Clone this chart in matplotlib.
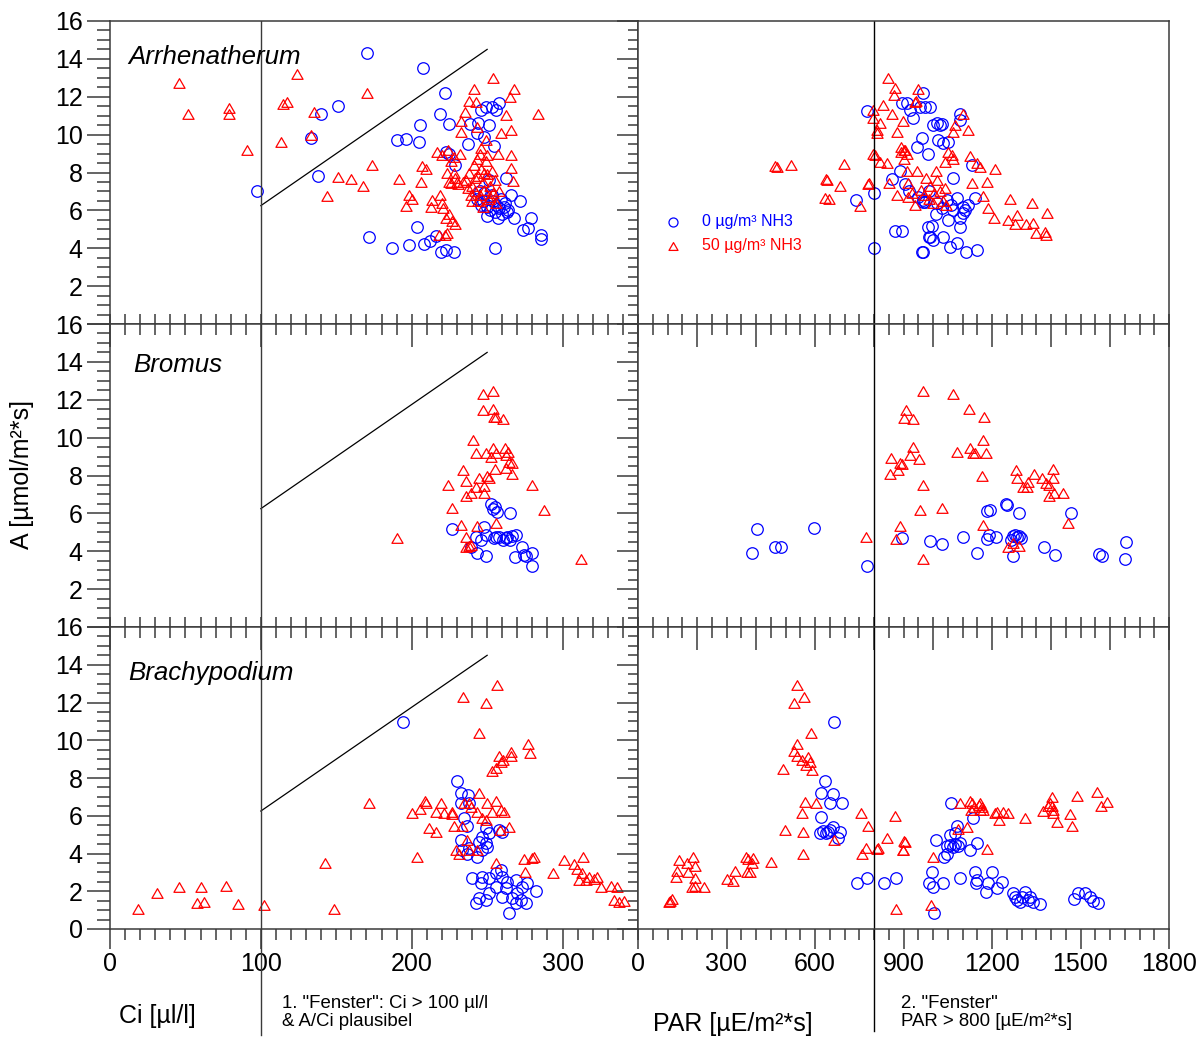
import matplotlib
matplotlib.use("Agg")
import matplotlib.pyplot as plt
from matplotlib.path import Path
from matplotlib.ticker import MultipleLocator

plt.rcParams['font.family'] = ['Liberation Sans', 'DejaVu Sans']

# ─────────────────────────────────────────────
#  Data
# ─────────────────────────────────────────────
# Arrhenatherum – A vs Ci
arr_ci_0 = [97.5, 133, 140, 151, 170.5, 137.7, 172, 187, 190.5, 207.5, 222, 219, 225, 205.5, 196, 205,
            198, 203.5, 208, 212, 216, 219.5, 223, 228, 255, 237, 229, 238.5, 246, 249, 253, 258, 256,
            244, 251, 243, 248, 254.5, 262.5, 251, 274, 277, 286, 286, 268, 279, 272, 266, 223, 225,
            243, 246, 248, 250, 252, 254, 256, 258, 260, 262, 264, 255, 250, 259, 247, 261, 245, 253, 257, 263]
arr_a_0 = [7.0, 9.8, 11.1, 11.5, 14.3, 7.8, 4.6, 4.0, 9.7, 13.5, 12.2, 11.1, 10.55, 10.5, 9.75, 9.6,
           4.17, 5.1, 4.2, 4.4, 4.65, 3.8, 3.9, 3.8, 4.0, 9.5, 8.4, 10.55, 11.3, 11.45, 11.45, 11.65, 11.3,
           10.6, 10.5, 10.1, 9.9, 9.4, 7.7, 7.6, 4.95, 5.05, 4.7, 4.5, 5.6, 5.6, 6.5, 6.8, 9.1, 9.0,
           6.6, 6.3, 6.9, 6.2, 6.0, 6.5, 6.3, 6.1, 5.8, 6.4, 6.0, 5.9, 5.7, 6.6, 6.5, 6.2, 7.0, 6.8, 5.6, 5.9]
arr_ci_50 = [46, 51.5, 79, 79, 91, 113.5, 115, 117, 124, 135.5, 133.5, 144, 151, 160, 168, 170.5, 174,
             191.5, 206, 207, 209.5, 198, 200, 196, 213.5, 213, 219, 220, 221, 223, 225, 227, 229, 223.5,
             222, 218, 254, 241, 268, 265, 283.5, 238, 242.5, 235, 233, 233, 262.5, 266, 259, 257, 266,
             266, 267, 217, 220, 224, 228, 232, 226, 223.5, 228, 230, 226, 225,
             236, 238, 240, 241, 242, 243, 244, 245, 246, 247, 248, 249, 250, 251, 252, 253, 254, 255,
             256, 244, 239, 247, 250, 237, 242, 248, 252, 240, 258, 245, 234, 231, 229, 246, 249, 243]
arr_a_50 = [12.7, 11.1, 11.4, 11.1, 9.2, 9.6, 11.6, 11.7, 13.2, 11.2, 10.0, 6.75, 7.75, 7.65, 7.3, 12.2, 8.4,
            7.65, 7.5, 8.35, 8.2, 6.8, 6.6, 6.25, 6.55, 6.2, 6.8, 6.4, 6.1, 5.6, 5.8, 5.45, 5.3, 4.8,
            4.7, 4.7, 13.0, 12.4, 12.4, 12.0, 11.1, 11.8, 11.7, 11.2, 10.7, 10.15, 11.05, 10.25, 10.1, 9.0, 8.9,
            8.25, 7.55, 9.1, 8.9, 9.2, 8.8, 9.0, 8.6, 8.0, 8.0, 7.5, 7.45, 7.5,
            7.6, 8.0, 7.3, 8.4, 7.0, 8.7, 7.8, 6.8, 8.2, 7.5, 7.1, 8.6, 7.9, 6.6, 7.3, 8.1, 6.9, 7.6,
            6.4, 6.5, 6.8, 6.2, 8.9, 7.2, 7.7, 8.0, 6.7, 6.5, 7.0, 9.0, 7.5, 7.4, 7.7, 9.3, 9.7, 10.4]

# Arrhenatherum – A vs PAR
arr_par_0 = [776, 800, 800, 739, 895, 888, 861, 871, 895, 966, 932, 922, 966, 973, 956, 990, 912, 1000,
             1014, 1024, 1030, 1091, 1091, 963, 946, 983, 1017, 1034, 1051, 1068, 1132, 966, 1014, 1047,
             1081, 1108, 1142, 1102, 1091, 1068, 1091, 997, 990, 1000, 1034, 1058, 1081, 963, 1112, 1149,
             906, 920, 1030, 1060, 1120, 1100, 1050, 1010, 950, 985, 966, 973, 983, 986]
arr_pa_0 = [11.25, 6.9, 4.0, 6.55, 11.65, 8.1, 7.65, 4.9, 4.9, 3.8, 10.9, 11.3, 12.2, 11.45, 11.45, 11.45,
            11.65, 10.5, 10.6, 10.5, 10.55, 11.1, 10.75, 9.8, 9.35, 9.0, 9.7, 9.55, 9.6, 7.7, 8.4, 6.45, 6.4,
            6.55, 6.65, 6.0, 6.65, 5.85, 5.6, 6.0, 5.1, 5.2, 4.6, 4.45, 4.6, 4.05, 4.3, 3.8, 3.8, 3.9,
            7.4, 7.0, 6.1, 6.3, 6.3, 6.2, 5.5, 5.8, 6.7, 7.0, 6.55, 6.45, 5.1, 4.6]
arr_par_50 = [464, 471, 519, 698, 637, 641, 685, 634, 647, 753, 780, 783, 797, 803, 797, 797, 810, 810, 820,
              847, 871, 868, 831, 861, 898, 878, 891, 893, 903, 950, 942, 939, 820, 844, 1102, 1119, 1075,
              1068, 1051, 1064, 1068, 1041, 1125, 1149, 1159, 1210, 1183, 1132, 905, 913, 900, 1170, 1186,
              1207, 1261, 1285, 1254, 1278, 1315, 1339, 1336, 1386, 1349, 1380, 1383,
              851, 915, 878, 915, 929, 939, 946, 912, 960, 975, 990, 1005, 1015, 1025, 1035, 1000, 970,
              1045, 1040, 985, 1010]
arr_pa_50 = [8.35, 8.3, 8.4, 8.45, 7.65, 7.6, 7.3, 6.65, 6.6, 6.25, 7.4, 7.45, 9.0, 8.9, 11.3, 10.9, 10.25,
             10.1, 10.6, 13.0, 12.45, 12.1, 11.55, 11.1, 10.7, 10.15, 9.35, 9.1, 9.2, 12.4, 11.8, 11.7, 8.55,
             8.5, 11.1, 10.25, 10.5, 10.15, 9.1, 8.9, 8.7, 8.55, 8.85, 8.5, 8.3, 8.2, 7.5, 7.45, 9.2, 9.0,
             8.7, 6.75, 6.1, 5.6, 6.6, 5.75, 5.5, 5.3, 5.3, 5.35, 6.4, 5.85, 4.8, 4.85, 4.7,
             7.45, 7.45, 6.8, 6.7, 6.9, 6.3, 8.1, 8.1, 7.1, 7.7, 7.3, 6.9, 7.6, 7.0, 6.5, 6.4, 6.8,
             6.3, 7.2, 6.6, 8.1]

# Bromus – A vs Ci
bro_ci_0 = [227, 252.5, 254, 256.5, 265, 255, 247.8, 249.2, 242.6, 243.2, 249.2, 239.3, 254.5, 257.8, 262.4,
            265, 266.4, 269, 263, 273, 268.3, 274.3, 279.6, 279.6, 275.6, 260.4, 255.8, 245.9]
bro_a_0 = [5.2, 6.5, 6.25, 6.05, 6.0, 6.35, 5.3, 4.85, 4.75, 3.9, 3.75, 4.2, 4.7, 4.75, 4.7,
           4.6, 4.8, 4.85, 4.75, 4.2, 3.7, 3.8, 3.9, 3.2, 3.75, 4.6, 4.75, 4.6]
bro_ci_50 = [190, 247, 254, 247, 254, 254.5, 256, 260.5, 240.6, 242.6, 249, 254, 256, 252.5, 261.7, 262.4,
             263.7, 264.4, 266.4, 262.4, 266.4, 255, 234, 236, 244.5, 250, 251, 248, 242.6, 239, 236, 248,
             224, 280, 288, 227, 256, 243, 232.5, 236, 236, 238, 239, 312]
bro_a_50 = [4.7, 12.3, 12.45, 11.45, 11.5, 11.1, 11.1, 11.0, 9.9, 9.2, 9.2, 9.45, 9.2, 9.0, 9.45, 9.1,
            9.25, 8.7, 8.65, 8.4, 8.1, 8.35, 8.3, 7.7, 7.85, 7.95, 7.85, 7.45, 7.4, 7.1, 6.9, 7.1,
            7.5, 7.5, 6.2, 6.3, 5.5, 5.35, 5.4, 4.75, 4.2, 4.3, 4.35, 3.6]

# Bromus – A vs PAR
bro_par_0 = [403, 386, 464, 485, 597, 776, 895, 990, 1031, 1102, 1149, 1183, 1193, 1247, 1251, 1292, 1183,
             1190, 1213, 1264, 1271, 1278, 1285, 1292, 1298, 1271, 1376, 1414, 1468, 1563, 1573, 1654, 1651]
bro_pa_0 = [5.2, 3.9, 4.2, 4.2, 5.25, 3.2, 4.7, 4.55, 4.4, 4.75, 3.9, 6.1, 6.2, 6.5, 6.45, 6.0, 4.65,
            4.85, 4.75, 4.6, 4.8, 4.85, 4.75, 4.8, 4.7, 3.75, 4.2, 3.8, 6.0, 3.85, 3.75, 4.5, 3.6]
bro_par_50 = [773, 966, 908, 902, 932, 932, 922, 953, 858, 888, 895, 881, 854, 966, 956, 888, 875, 966,
              1068, 1122, 1173, 1169, 1081, 1125, 1136, 1142, 1180, 1166, 1031, 1169, 1281, 1285, 1305,
              1322, 1319, 1342, 1369, 1383, 1393, 1407, 1407, 1393, 1410, 1441, 1458, 1271, 1254, 1292]
bro_pa_50 = [4.75, 12.45, 11.45, 11.05, 11.0, 9.5, 9.1, 8.85, 8.95, 8.65, 8.6, 8.3, 8.1, 7.5, 6.2, 5.35,
             4.65, 3.6, 12.3, 11.5, 11.1, 9.9, 9.25, 9.45, 9.2, 9.2, 9.2, 8.0, 6.3, 5.4, 8.3, 7.85, 7.4,
             7.65, 7.4, 8.1, 7.85, 7.6, 7.5, 8.35, 7.85, 6.9, 7.05, 7.05, 5.5, 4.45, 4.2, 4.3]

# Brachypodium – A vs Ci
bra_ci_0 = [194, 230, 232.7, 237.3, 232.7, 238, 234.6, 236.6, 257.8, 259.7, 249.2, 251.2, 246.5, 244.5,
            249.2, 232.7, 233.3, 236.6, 243.2, 238, 249.8, 246.5,
            240, 246.5, 245.9, 251.2, 255.8, 259.1, 259.7, 263, 269, 276.3, 282.2, 272.9, 269.7, 266.4,
            272.3, 264.4, 242.6, 244.5, 249.2, 251.2, 259.7, 255.8, 275.6, 269, 262.4]
bra_a_0 = [10.95, 7.85, 7.2, 7.1, 6.7, 6.65, 5.9, 5.45, 5.25, 5.15, 5.35, 5.1, 4.9, 4.6,
           4.55, 4.7, 4.2, 4.0, 3.8, 4.3, 4.35, 4.2,
           2.7, 2.75, 2.45, 2.7, 2.95, 3.1, 2.75, 2.5, 2.6, 2.45, 2.0, 2.2, 1.9, 1.65,
           1.55, 0.85, 1.4, 1.65, 1.55, 1.9, 1.7, 2.2, 1.4, 1.4, 2.15]
bra_ci_50 = [18.5, 31, 45.8, 57.5, 62, 60.6, 77, 85, 102, 142.5, 148.7, 171.8,
             256.5, 234, 249, 244.5, 277, 278.3, 257.8, 265.7, 265.7, 260.4, 255.8, 253.1, 259.1,
             200, 205.5, 208.9, 209.5, 219.4, 216.1, 221.4, 226.7, 226.7, 211.5, 216.1, 203.6,
             228, 233.3, 234.6, 238, 239.3, 244.5, 249.8, 255.8, 259.1, 261.1, 264.4, 243.2, 246.5, 249.2,
             253.1, 229.4, 231.3, 236.6, 238, 243.2, 255.8, 258.4,
             274.3, 279.6, 280.9, 274.9, 293.5, 300.7, 307.3, 313.3, 309.3, 312.6, 310.6, 315.3, 317.2,
             322.5, 320.6, 325.8, 331.8, 335.8, 333.8, 337.1, 340.4]
bra_a_50 = [1.05, 1.9, 2.2, 1.4, 1.45, 2.2, 2.3, 1.35, 1.25, 3.5, 1.05, 6.7,
            12.95, 12.3, 11.95, 10.4, 9.8, 9.35, 9.15, 9.4, 9.15, 8.95, 8.55, 8.35, 8.85,
            6.15, 6.35, 6.8, 6.7, 6.7, 6.2, 6.15, 6.2, 6.1, 5.35, 5.15, 3.8,
            5.45, 5.45, 6.7, 6.65, 6.45, 7.2, 6.7, 6.8, 6.3, 6.2, 5.4, 6.2, 5.9, 5.75,
            6.2, 4.2, 4.0, 4.7, 4.2, 4.2, 3.5, 5.25,
            3.7, 3.75, 3.8, 3.0, 2.95, 3.65, 3.45, 3.8, 3.2, 2.95, 2.6, 2.6, 2.75,
            2.75, 2.65, 2.2, 2.3, 2.2, 1.55, 1.45, 1.5]

# Brachypodium – A vs PAR
bra_par_0 = [664, 634, 620, 661, 651, 692, 620, 661, 685, 678, 627, 644, 617, 637, 651, 742, 776, 834, 875,
             1061, 1136, 1081, 1075, 1058, 1010, 1047, 1058, 1075, 1091, 1085, 1125, 1149, 1037, 1047, 1068,
             997, 986, 1000, 1034, 1091, 1142, 1149, 1146, 1180, 1186, 1200, 1217, 1234, 1003,
             1271, 1312, 1285, 1295, 1322, 1339, 1363, 1278, 1302, 1329,
             1478, 1492, 1515, 1532, 1542, 1559]
bra_pa_0 = [10.95, 7.85, 7.2, 7.15, 6.65, 6.7, 5.95, 5.4, 5.15, 4.8, 5.2, 5.15, 5.1, 5.1, 5.25, 2.45, 2.7,
            2.45, 2.7, 6.65, 5.9, 5.45, 5.1, 5.0, 4.7, 4.4, 4.45, 4.5, 4.55, 4.4, 4.2, 4.55, 3.8, 4.0, 4.35,
            3.0, 2.45, 2.2, 2.45, 2.7, 3.0, 2.6, 2.45, 1.95, 2.45, 3.0, 2.15, 2.5, 0.85,
            1.9, 1.95, 1.55, 1.45, 1.55, 1.45, 1.3, 1.7, 1.7, 1.7,
            1.6, 1.9, 1.9, 1.7, 1.5, 1.4]
bra_par_50 = [108, 115, 105, 139, 132, 129, 166, 186, 193, 169, 193, 183, 193, 224, 302, 322, 329, 366, 373,
              386, 380, 369, 390, 451, 492, 539, 563, 529, 586, 539, 529, 539, 556, 576, 583, 569, 590,
              566, 603, 556, 559, 498, 559, 664, 756, 780, 871, 902, 844, 898, 814, 810, 773, 759, 875,
              1091, 1125, 1132, 1139, 1129, 1159, 1166, 1159, 1169, 1156, 1115, 1085, 1183, 1000, 993, 905,
              898, 1217, 1210, 1237, 1254, 1224, 1312, 1373, 1397, 1403, 1407, 1403, 1390, 1407, 1420,
              1464, 1471, 1488, 1556, 1569, 1590]
bra_pa_50 = [1.5, 1.6, 1.45, 3.65, 3.05, 2.75, 3.5, 3.8, 3.35, 3.0, 2.7, 2.2, 2.3, 2.2, 2.65, 2.55, 3.05,
             3.8, 3.7, 3.5, 3.0, 3.0, 3.75, 3.55, 8.5, 12.95, 12.3, 11.95, 10.4, 9.8, 9.45, 9.15, 8.95,
             9.1, 8.85, 8.7, 8.4, 6.75, 6.7, 6.15, 5.15, 5.25, 4.0, 4.7, 6.15, 5.45, 6.0, 4.65, 4.8, 4.2,
             4.3, 4.25, 4.3, 3.95, 1.05, 6.7, 6.8, 6.65, 6.45, 6.3, 6.65, 6.45, 6.3, 6.3, 6.55, 5.4, 5.3,
             4.25, 3.8, 1.25, 4.6, 4.2, 6.2, 6.15, 6.2, 6.15, 5.75, 5.9, 6.25, 6.7, 6.5, 6.3, 7.0, 6.5,
             6.15, 5.65, 6.1, 5.45, 7.05, 7.25, 6.5, 6.75]

species = ["Arrhenatherum", "Bromus", "Brachypodium"]
ci_data = [(arr_ci_0, arr_a_0, arr_ci_50, arr_a_50),
           (bro_ci_0, bro_a_0, bro_ci_50, bro_a_50),
           (bra_ci_0, bra_a_0, bra_ci_50, bra_a_50)]
par_data = [(arr_par_0, arr_pa_0, arr_par_50, arr_pa_50),
            (bro_par_0, bro_pa_0, bro_par_50, bro_pa_50),
            (bra_par_0, bra_pa_0, bra_par_50, bra_pa_50)]

CI_WINDOW = 100
PAR_WINDOW = 800
ACI_LINE_X = [100, 250]
ACI_LINE_Y = [6.25, 14.5]

# ─────────────────────────────────────────────
#  Layout (pixel based, 1202 x 1041 @ 100 dpi)
# ─────────────────────────────────────────────
W, H = 1202, 1041
fig = plt.figure(figsize=(W / 100, H / 100), dpi=100, facecolor="white")

def px_rect(x0, y0, x1, y1):
    return [x0 / W, 1 - y1 / H, (x1 - x0) / W, (y1 - y0) / H]

row_edges = [(21, 324), (324, 627), (627, 929)]
BLUE = "#0000ff"
RED = "#ff0000"
SPINE = "#3a3a3a"
tri = Path([(-1, -0.866), (1, -0.866), (0, 0.866), (-1, -0.866)],
           [Path.MOVETO, Path.LINETO, Path.LINETO, Path.CLOSEPOLY])
PT = 0.72  # points per pixel

def style_common(ax):
    for s in ax.spines.values():
        s.set_color(SPINE)
        s.set_linewidth(1.1)
    ax.set_ylim(0, 16)
    ax.yaxis.set_major_locator(MultipleLocator(2))
    ax.yaxis.set_minor_locator(MultipleLocator(0.5))

for r, (y0, y1) in enumerate(row_edges):
    bottom_row = r == 2
    axl = fig.add_axes(px_rect(110, y0, 638, y1))
    axr = fig.add_axes(px_rect(638, y0, 1169, y1))
    style_common(axl)
    style_common(axr)

    # --- Ci panel ---
    axl.set_xlim(0, 350)
    axl.tick_params(axis="y", which="major", direction="out", length=23 * PT, width=1.1,
                    color=SPINE, labelsize=18, pad=3, left=True, right=False)
    axl.tick_params(axis="y", which="minor", direction="out", length=13 * PT, width=1.1,
                    color=SPINE, left=True, right=False)
    ylabels = ["" if (v == 0 and not bottom_row) else f"{v:g}" for v in range(0, 17, 2)]
    axl.set_yticks(range(0, 17, 2))
    axl.set_yticklabels(ylabels)

    # --- PAR panel ---
    axr.set_xlim(0, 1800)
    axr.tick_params(axis="y", which="major", direction="out", length=21 * PT, width=1.1,
                    color=SPINE, left=True, right=False, labelleft=False)
    axr.tick_params(axis="y", which="minor", direction="out", length=10 * PT, width=1.1,
                    color=SPINE, left=True, right=False)

    for ax, step_top, step_bot, minor in [(axl, 100, 100, 10), (axr, 200, 300, 50)]:
        # top ticks pointing into the panel
        if r > 0:
            top = ax.secondary_xaxis("top")
            top.xaxis.set_major_locator(MultipleLocator(step_top))
            top.xaxis.set_minor_locator(MultipleLocator(minor))
            top.tick_params(which="major", direction="in", length=23 * PT, width=1.1,
                            color=SPINE, labeltop=False)
            top.tick_params(which="minor", direction="in", length=11 * PT, width=1.1, color=SPINE)
            top.spines["top"].set_visible(False)
        ax.xaxis.set_major_locator(MultipleLocator(step_bot))
        ax.xaxis.set_minor_locator(MultipleLocator(minor))
        if bottom_row:
            ax.tick_params(axis="x", which="major", direction="out", length=20 * PT, width=1.1,
                           color=SPINE, labelsize=18, pad=2, top=False)
            ax.tick_params(axis="x", which="minor", direction="out", length=11 * PT, width=1.1,
                           color=SPINE, top=False)
        else:
            ax.tick_params(axis="x", which="major", direction="in", length=10 * PT, width=1.1,
                           color=SPINE, labelbottom=False, top=False)
            ax.tick_params(axis="x", which="minor", direction="in", length=10 * PT, width=1.1,
                           color=SPINE, top=False)

    # --- markers ---
    c0, a0, c50, a50 = ci_data[r]
    axl.plot(c0, a0, ls="none", marker="o", ms=8.3, mfc="none", mec=BLUE, mew=0.9, clip_on=False)
    axl.plot(c50, a50, ls="none", marker=tri, ms=8, mfc="none", mec=RED, mew=0.9, clip_on=False)
    p0, pa0, p50, pa50 = par_data[r]
    axr.plot(p0, pa0, ls="none", marker="o", ms=8.3, mfc="none", mec=BLUE, mew=0.9, clip_on=False)
    axr.plot(p50, pa50, ls="none", marker=tri, ms=8, mfc="none", mec=RED, mew=0.9, clip_on=False)

    # --- window lines ---
    axl.plot(ACI_LINE_X, ACI_LINE_Y, color="black", lw=0.9)
    if bottom_row:
        axl.plot([CI_WINDOW] * 2, [-5.6, 16], color=SPINE, lw=1.0, clip_on=False)
        axr.plot([PAR_WINDOW] * 2, [-5.4, 16], color="black", lw=1.0, clip_on=False)
    else:
        axl.axvline(CI_WINDOW, color=SPINE, lw=1.0)
        axr.axvline(PAR_WINDOW, color="black", lw=1.0)

    text_pos = [(0.034, 0.881), (0.044, 0.865), (0.034, 0.848)][r]
    axl.text(*text_pos, species[r], transform=axl.transAxes, fontsize=18.6, style="italic",
             ha="left", va="center")

    if r == 0:
        # manual legend
        axr.plot([0.066], [0.337], transform=axr.transAxes, ls="none", marker="o", ms=6.5,
                 mfc="none", mec=BLUE, mew=0.9)
        axr.plot([0.066], [0.258], transform=axr.transAxes, ls="none", marker=tri, ms=6.5,
                 mfc="none", mec=RED, mew=0.9)
        axr.text(0.121, 0.337, "0 µg/m³ NH3", transform=axr.transAxes, color=BLUE,
                 fontsize=11.5, va="center", ha="left")
        axr.text(0.121, 0.258, "50 µg/m³ NH3", transform=axr.transAxes, color=RED,
                 fontsize=11.5, va="center", ha="left")

# ─────────────────────────────────────────────
#  Axis titles and window notes
# ─────────────────────────────────────────────
fig.text(22 / W, 1 - 475 / H, "A [µmol/m²*s]", rotation=90, fontsize=18, ha="center", va="center")
fig.text(157 / W, 1 - 1016 / H, "Ci [µl/l]", fontsize=18, ha="center", va="center")
fig.text(733 / W, 1 - 1024 / H, "PAR [µE/m²*s]", fontsize=18, ha="center", va="center")
fig.text(282 / W, 1 - 1004 / H, '1. "Fenster": Ci > 100 µl/l', fontsize=13.4, ha="left", va="center")
fig.text(282 / W, 1 - 1022 / H, "& A/Ci plausibel", fontsize=13.4, ha="left", va="center")
fig.text(901 / W, 1 - 1004 / H, '2. "Fenster"', fontsize=13.4, ha="left", va="center")
fig.text(901 / W, 1 - 1022 / H, "PAR > 800 [µE/m²*s]", fontsize=13.4, ha="left", va="center")

fig.savefig("out.png", dpi=100, facecolor="white")
